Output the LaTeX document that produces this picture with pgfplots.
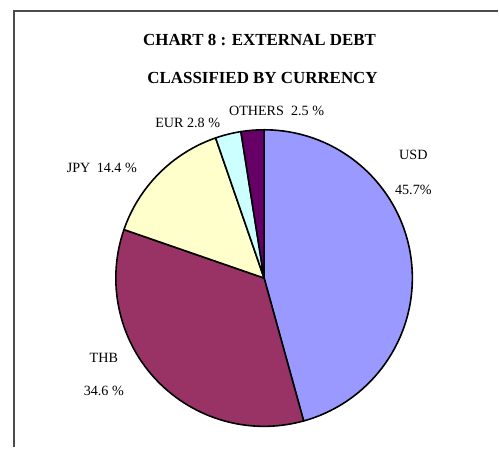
\documentclass[border=0pt]{standalone}
\usepackage{pgfplots}
\usepackage{pgfplotstable}
\pgfplotsset{compat=1.18}
\usepackage{fontspec}
\setmainfont{Liberation Serif}

\definecolor{usd}{HTML}{9999FF}
\definecolor{thb}{HTML}{993366}
\definecolor{jpy}{HTML}{FFFFCC}
\definecolor{eur}{HTML}{CCFFFF}
\definecolor{oth}{HTML}{660066}

% share of external debt by currency (%)
\pgfplotstableread{
currency share colour
USD      45.7  usd
THB      34.6  thb
JPY      14.4  jpy
EUR      2.8   eur
OTHERS   2.5   oth
}\sharedata

% pie centre and radius, in px of the picture
\def\cx{264.5}\def\cy{278.5}\def\rr{148.5}

% turn the table into wedges (clockwise from 12 o'clock)
\gdef\cum{0}
\gdef\slices{}
\pgfplotstableforeachcolumnelement{share}\of\sharedata\as\v{%
  \pgfplotstablegetelem{\pgfplotstablerow}{colour}\of\sharedata
  \let\col\pgfplotsretval
  \pgfmathsetmacro\sa{90-3.6*\cum}%
  \pgfmathsetmacro\ea{90-3.6*(\cum+\v)}%
  \pgfmathsetmacro\px{\cx+\rr*cos(\sa)}%
  \pgfmathsetmacro\py{\cy-\rr*sin(\sa)}%
  \pgfmathsetmacro\nc{\cum+\v}%
  \xdef\cum{\nc}%
  \xdef\slices{\unexpanded\expandafter{\slices}%
    \noexpand\filldraw[fill=\col, draw=black, line width=1.6bp, line join=round]
      (axis cs:\cx,\cy) -- (axis cs:\px,\py)
      arc[start angle=\sa, end angle=\ea, radius=\rr bp] -- cycle;}%
}

\begin{document}
\begin{tikzpicture}[
  lab/.style={font=\fontsize{14.2}{16}\selectfont, inner sep=0pt},
  ttl/.style={font=\fontsize{17}{19}\selectfont\bfseries, inner sep=0pt},
]
\begin{axis}[
  x=1bp, y=1bp, y dir=reverse,
  xmin=0, xmax=499, ymin=0, ymax=448,
  hide axis,
  clip=false,
]
  % fixes the picture to the reference's size
  \path (axis cs:0,0) rectangle (axis cs:499,448);
  % frame of the chart area (its right and bottom sides lie outside)
  \draw[black!70, line width=1.6bp] (axis cs:14,448) -- (axis cs:14,11) -- (axis cs:499,11);

  \slices

  \node[ttl] at (axis cs:260,40) {CHART 8 : EXTERNAL DEBT};
  \node[ttl] at (axis cs:263,78) {CLASSIFIED BY CURRENCY};

  \node[lab] at (axis cs:414,155) {USD};
  \node[lab] at (axis cs:414,190) {45.7\%};
  \node[lab] at (axis cs:104,358) {THB};
  \node[lab] at (axis cs:104,392) {34.6 \%};
  \node[lab] at (axis cs:102,168) {JPY\hspace{0.45em}14.4 \%};
  \node[lab] at (axis cs:188,123) {EUR 2.8 \%};
  \node[lab] at (axis cs:277,111) {OTHERS\ \ 2.5 \%};
\end{axis}
\end{tikzpicture}
\end{document}
